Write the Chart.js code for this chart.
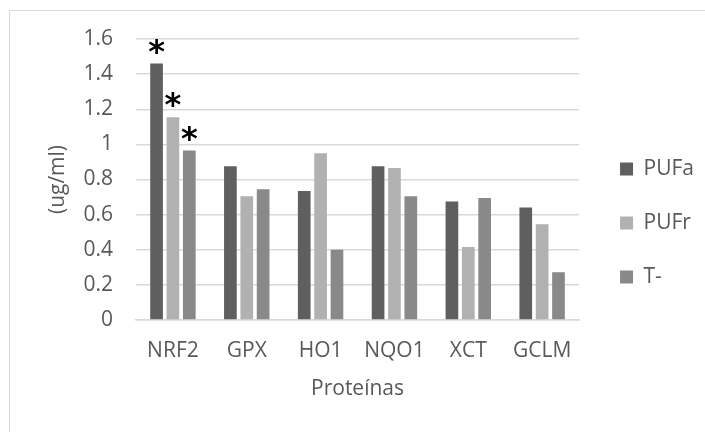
<!DOCTYPE html>
<html>
<head>
<meta charset="utf-8">
<title>Proteínas</title>
<script src="https://cdn.jsdelivr.net/npm/chart.js@4/dist/chart.umd.min.js"></script>
<style>
  html, body { margin: 0; padding: 0; background: #fff; }
  #wrap { position: relative; width: 705px; height: 432px; overflow: hidden; }
  #frame {
    position: absolute; left: 9px; top: 10px; width: 720px; height: 440px;
    border-top: 1px solid #d9d9d9; border-left: 1px solid #d9d9d9;
  }
  #chart { position: absolute; left: 0; top: 0; }
</style>
</head>
<body>
<div id="wrap">
  <div id="frame"></div>
  <canvas id="chart" width="705" height="432"></canvas>
</div>
<script>
// Protein levels per treatment group
const proteins = ['NRF2', 'GPX', 'HO1', 'NQO1', 'XCT', 'GCLM'];
const pufa = [1.46, 0.875, 0.735, 0.875, 0.675, 0.64];
const pufr = [1.155, 0.705, 0.95, 0.865, 0.415, 0.545];
const tNeg = [0.965, 0.745, 0.4, 0.705, 0.695, 0.272];
const yTickLabels = ['0', '0.2', '0.4', '0.6', '0.8', '1', '1.2', '1.4', '1.6'];
// Categories flagged as significant (asterisk over every bar)
const starred = ['NRF2'];
const yTitleText = '(ug/ml)';

const textColor = '#595959';
const gridColor = '#d9d9d9';
const fontFamily = "'Open Sans', 'Liberation Sans', sans-serif";
const fontSize = 21;

// Draws a bold asterisk above each bar of the starred categories
const asteriskPlugin = {
  id: 'asterisks',
  afterDatasetsDraw(chart) {
    const ctx = chart.ctx;
    ctx.save();
    ctx.fillStyle = '#000';
    ctx.font = "bold 32px 'DejaVu Sans', sans-serif";
    ctx.textAlign = 'center';
    ctx.textBaseline = 'alphabetic';
    const m = ctx.measureText('*');
    chart.data.datasets.forEach((ds, i) => {
      chart.getDatasetMeta(i).data.forEach((bar, j) => {
        if (!starred.includes(chart.data.labels[j])) return;
        ctx.fillText('*', bar.x, bar.y - 10 - m.actualBoundingBoxDescent);
      });
    });
    ctx.restore();
  }
};

// Rotated unit label, placed just left of the tick labels
const yTitlePlugin = {
  id: 'yTitle',
  afterDraw(chart) {
    const {ctx, chartArea} = chart;
    ctx.save();
    ctx.translate(chartArea.left - 78, (chartArea.top + chartArea.bottom) / 2);
    ctx.rotate(-Math.PI / 2);
    ctx.textAlign = 'center';
    ctx.textBaseline = 'middle';
    ctx.fillStyle = textColor;
    ctx.font = fontSize + 'px ' + fontFamily;
    ctx.fillText(yTitleText, 0, 0);
    ctx.restore();
  }
};

// Leave a small gap between plot and legend
const legendGap = {
  id: 'legendGap',
  afterLayout(chart) {
    chart.legend.left += 8;
    chart.legend.right += 8;
  }
};

new Chart(document.getElementById('chart'), {
  type: 'bar',
  data: {
    labels: proteins,
    datasets: [
      { label: 'PUFa', data: pufa, backgroundColor: '#5f5f5f' },
      { label: 'PUFr', data: pufr, backgroundColor: '#b1b1b1' },
      { label: 'T-', data: tNeg, backgroundColor: '#898989' }
    ]
  },
  options: {
    responsive: false,
    animation: false,
    layout: { padding: { top: 39, bottom: 25, left: 45, right: 9 } },
    datasets: {
      bar: { categoryPercentage: 0.665, barPercentage: 0.775 }
    },
    plugins: {
      legend: {
        position: 'right',
        labels: {
          color: textColor,
          boxWidth: 13,
          boxHeight: 13,
          padding: 33,
          font: { family: fontFamily, size: fontSize }
        }
      },
      tooltip: { enabled: false }
    },
    scales: {
      x: {
        grid: { display: false, drawTicks: false },
        border: { display: true, color: gridColor, width: 1.5 },
        ticks: {
          color: textColor,
          padding: 18,
          font: { family: fontFamily, size: fontSize }
        },
        title: {
          display: true,
          text: 'Proteínas',
          color: textColor,
          padding: { top: 0, bottom: 5 },
          font: { family: fontFamily, size: fontSize }
        },
        afterFit(scale) { scale.height = 87; }
      },
      y: {
        min: 0,
        max: 1.6,
        grid: { color: gridColor, lineWidth: 1.5, drawTicks: false },
        border: { display: false },
        ticks: {
          stepSize: 0.2,
          color: textColor,
          padding: 23,
          font: { family: fontFamily, size: fontSize },
          callback: (value, i) => yTickLabels[i]
        },
        afterFit(scale) { scale.width = 91; }
      }
    }
  },
  plugins: [asteriskPlugin, yTitlePlugin, legendGap]
});
</script>
</body>
</html>
